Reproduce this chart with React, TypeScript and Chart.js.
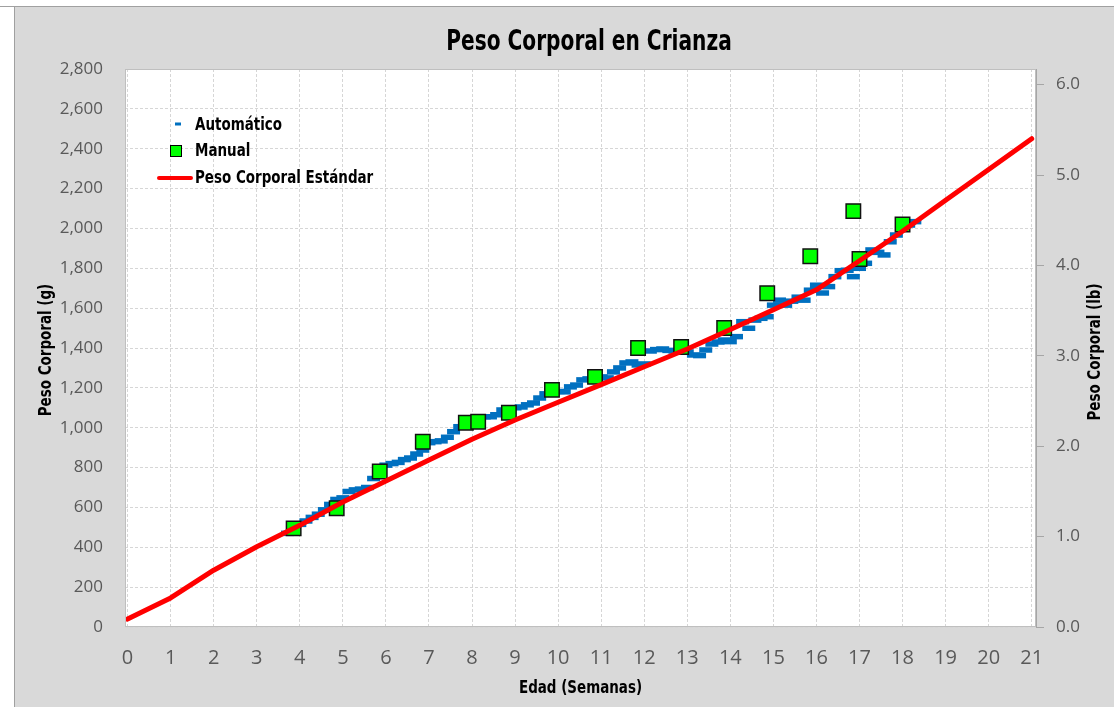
import React, { useEffect, useRef } from "react";
import { Chart, registerables } from "chart.js";

Chart.register(...registerables);

// ---------- data ----------
const weekTicks = [0, 1, 2, 3, 4, 5, 6, 7, 8, 9, 10, 11, 12, 13, 14, 15, 16, 17, 18, 19, 20, 21];
const gramTicks = [0, 200, 400, 600, 800, 1000, 1200, 1400, 1600, 1800, 2000, 2200, 2400, 2600, 2800];
const lbTicks = [0, 1, 2, 3, 4, 5, 6];

const standardWeeks = [0, 1, 2, 3, 4, 5, 6, 7, 8, 9, 10, 11, 12, 13, 14, 15, 16, 17, 18, 19, 20, 21];
const standardGrams = [40, 146, 285, 403, 510, 627, 733, 838, 942, 1039, 1128, 1216, 1306, 1395, 1493, 1592, 1692, 1838, 1986, 2141, 2296, 2450];

const manualDays = [27, 34, 41, 48, 55, 57, 62, 69, 76, 83, 90, 97, 104, 111, 118, 119, 126];
const manualGrams = [495, 596, 780, 930, 1025, 1030, 1075, 1190, 1255, 1400, 1405, 1500, 1675, 1860, 2087, 1847, 2020];

const autoFirstDay = 26;
const autoGrams = [
  470, 492, 515, 532, 550, 566, 588, 615, 640, 648,
  680, 688, 692, 700, 745, 770, 812, 820, 826, 840,
  848, 868, 888, 925, 930, 934, 952, 980, 1005, 1015,
  1040, 1050, 1055, 1055, 1065, 1089, 1095, 1100, 1104, 1115,
  1124, 1149, 1170, 1180, 1182, 1180, 1205, 1214, 1240, 1245,
  1252, 1255, 1250, 1280, 1300, 1325, 1330, 1315, 1320, 1385,
  1392, 1395, 1388, 1385, 1388, 1380, 1365, 1362, 1390, 1420,
  1430, 1440, 1432, 1457, 1532, 1499, 1540, 1549, 1557, 1615,
  1640, 1615, 1635, 1655, 1640, 1690, 1715, 1676, 1708, 1758,
  1788, 1790, 1758, 1800, 1825, 1892, 1880, 1867, 1933, 1967,
  2010, 2017, 2034,
];

const GRAMS_PER_LB = 453.592;

const TITLE = "Peso Corporal en Crianza";
const X_TITLE = "Edad (Semanas)";
const Y_TITLE = "Peso Corporal (g)";
const Y2_TITLE = "Peso Corporal (lb)";
const LEGEND_AUTO = "Automático";
const LEGEND_MANUAL = "Manual";
const LEGEND_STD = "Peso Corporal Estándar";

// ---------- styles ----------
const COND = "'Liberation Sans Narrow', 'DejaVu Sans Condensed', 'Open Sans', sans-serif";
const TICKF = "'Open Sans', 'Noto Sans', sans-serif";
const BLUE = "#0070C0";
const GREEN = "#00FF00";
const RED = "#FF0000";
const GRID = "#d6d6d6";

function drawText(
  ctx: CanvasRenderingContext2D,
  text: string,
  x: number,
  y: number,
  font: string,
  sx: number,
  align: CanvasTextAlign,
  rot = 0
) {
  ctx.save();
  ctx.translate(x, y);
  if (rot) ctx.rotate(rot);
  ctx.scale(sx, 1);
  ctx.font = font;
  ctx.textAlign = align;
  ctx.textBaseline = "middle";
  ctx.fillStyle = "#000";
  ctx.fillText(text, 0, 0);
  ctx.restore();
}

const customDraw = {
  id: "customDraw",
  beforeDraw(chart: any) {
    const { ctx, chartArea: a } = chart;
    ctx.save();
    ctx.fillStyle = "#ffffff";
    ctx.fillRect(a.left, a.top, a.right - a.left, a.bottom - a.top);
    ctx.restore();
  },
  afterDraw(chart: any) {
    const { ctx, chartArea: a } = chart;
    ctx.save();
    // plot border
    ctx.strokeStyle = "#bfbfbf";
    ctx.lineWidth = 1;
    ctx.strokeRect(a.left + 0.5, a.top + 0.5, a.right - a.left - 1, a.bottom - a.top - 1);
    ctx.strokeStyle = "#a6a6a6";
    ctx.beginPath();
    ctx.moveTo(a.right + 0.5, a.top);
    ctx.lineTo(a.right + 0.5, a.bottom);
    ctx.stroke();

    // titles
    drawText(ctx, TITLE, 589, 42.5, `bold 28px ${COND}`, 0.8, "center");
    drawText(ctx, X_TITLE, (a.left + a.right) / 2, 689, `bold 17px ${COND}`, 0.88, "center");
    drawText(ctx, Y_TITLE, 47, 350, `bold 17px ${COND}`, 0.88, "center", -Math.PI / 2);
    drawText(ctx, Y2_TITLE, 1096, 352, `bold 17px ${COND}`, 0.88, "center", -Math.PI / 2);

    // legend
    ctx.fillStyle = BLUE;
    ctx.fillRect(175, 122.5, 6, 3);
    drawText(ctx, LEGEND_AUTO, 195, 125.5, `bold 17px ${COND}`, 0.88, "left");

    ctx.fillStyle = GREEN;
    ctx.fillRect(170.5, 145.5, 11, 11);
    ctx.strokeStyle = "#000";
    ctx.lineWidth = 1;
    ctx.strokeRect(170.5, 145.5, 11, 11);
    drawText(ctx, LEGEND_MANUAL, 195, 152, `bold 17px ${COND}`, 0.88, "left");

    ctx.strokeStyle = RED;
    ctx.lineWidth = 4;
    ctx.lineCap = "round";
    ctx.beginPath();
    ctx.moveTo(159, 178);
    ctx.lineTo(191, 178);
    ctx.stroke();
    drawText(ctx, LEGEND_STD, 195, 179, `bold 17px ${COND}`, 0.88, "left");
    ctx.restore();
  },
};

export default function App() {
  const canvasRef = useRef<HTMLCanvasElement | null>(null);

  useEffect(() => {
    document.body.style.margin = "0";
    const canvas = canvasRef.current;
    if (!canvas) return;

    const stdData = standardWeeks.map((w, i) => ({ x: w, y: standardGrams[i] }));
    const manualData = manualDays.map((d, i) => ({ x: d / 7, y: manualGrams[i] }));
    const autoData = autoGrams.map((g, i) => ({ x: (autoFirstDay + i) / 7, y: g }));

    const chart = new Chart(canvas, {
      type: "line",
      data: {
        datasets: [
          {
            label: LEGEND_AUTO,
            data: autoData,
            showLine: false,
            pointStyle: "line",
            pointRadius: 6.5,
            pointBorderWidth: 5.5,
            pointBorderColor: BLUE,
            pointBackgroundColor: BLUE,
            order: 2,
          },
          {
            label: LEGEND_MANUAL,
            data: manualData,
            showLine: false,
            pointStyle: "rect",
            pointRadius: 10.2,
            pointBorderWidth: 1.5,
            pointBorderColor: "#111",
            pointBackgroundColor: GREEN,
            order: 1,
          },
          {
            label: LEGEND_STD,
            data: stdData,
            borderColor: RED,
            borderWidth: 5,
            borderCapStyle: "round",
            borderJoinStyle: "round",
            pointRadius: 0,
            tension: 0,
            order: 0,
          },
        ],
      },
      options: {
        responsive: false,
        animation: false,
        devicePixelRatio: 1,
        events: [],
        layout: { padding: { top: 69, left: 0, right: 0, bottom: 0 } },
        plugins: {
          legend: { display: false },
          title: { display: false },
          tooltip: { enabled: false },
        },
        scales: {
          x: {
            type: "linear",
            min: -0.06,
            max: 21.1,
            afterBuildTicks: (s: any) => {
              s.ticks = weekTicks.map((v) => ({ value: v }));
            },
            afterFit: (s: any) => {
              s.height = 80;
            },
            grid: { color: GRID, drawTicks: false, lineWidth: 1 },
            border: { display: false, dash: [3, 2] },
            ticks: {
              padding: 19,
              color: "#595959",
              font: { family: TICKF, size: 20 },
              callback: (v: any) => String(v),
            },
          },
          y: {
            type: "linear",
            position: "left",
            min: 0,
            max: 2800,
            afterBuildTicks: (s: any) => {
              s.ticks = gramTicks.map((v) => ({ value: v }));
            },
            afterFit: (s: any) => {
              s.width = 125;
            },
            grid: { color: GRID, drawTicks: false, lineWidth: 1 },
            border: { display: false, dash: [3, 2] },
            ticks: {
              padding: 22,
              color: "#595959",
              font: { family: TICKF, size: 17 },
              callback: (v: any) => Number(v).toLocaleString("en-US"),
            },
          },
          y1: {
            type: "linear",
            position: "right",
            min: 0,
            max: 2800 / GRAMS_PER_LB,
            afterBuildTicks: (s: any) => {
              s.ticks = lbTicks.map((v) => ({ value: v }));
            },
            afterFit: (s: any) => {
              s.width = 78;
            },
            grid: {
              drawOnChartArea: false,
              drawTicks: true,
              tickLength: 8,
              tickColor: "#a6a6a6",
              color: "#a6a6a6",
            },
            border: { display: false },
            ticks: {
              padding: 12,
              color: "#595959",
              font: { family: TICKF, size: 17 },
              callback: (v: any) => Number(v).toFixed(1),
            },
          },
        },
      },
      plugins: [customDraw],
    } as any);

    return () => chart.destroy();
  }, []);

  return (
    <div style={{ position: "relative", width: 1114, height: 707, background: "#fff", overflow: "hidden" }}>
      <div style={{ position: "absolute", left: 0, top: 6, width: 1114, height: 1, background: "#a0a0a0" }} />
      <div
        style={{
          position: "absolute",
          left: 14,
          top: 7,
          width: 1100,
          height: 700,
          background: "#d9d9d9",
          borderLeft: "1px solid #a0a0a0",
          boxSizing: "border-box",
        }}
      />
      <canvas
        ref={canvasRef}
        width={1114}
        height={707}
        style={{ position: "absolute", left: 0, top: 0, width: 1114, height: 707 }}
      />
    </div>
  );
}
